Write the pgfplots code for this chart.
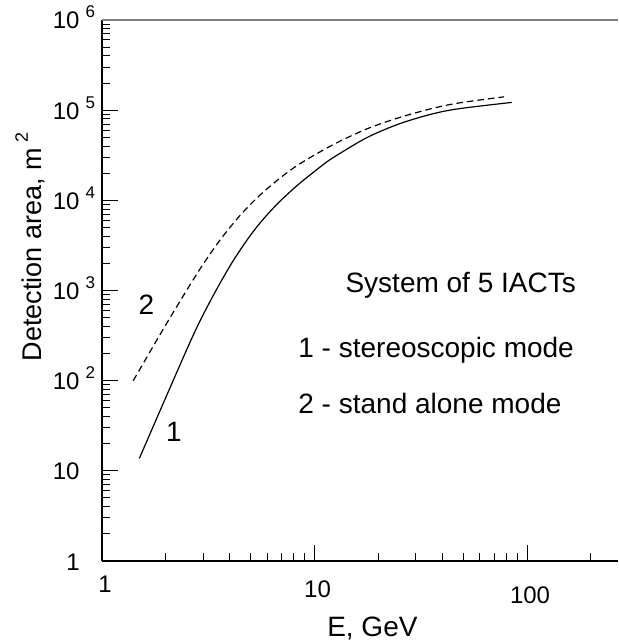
\documentclass[border=0pt]{standalone}
\usepackage{pgfplots}
\pgfplotsset{compat=1.18}
\usepackage{fontspec}
\setmainfont{Liberation Sans}
\newcommand{\supe}[1]{\rlap{\hspace{3pt}\raisebox{5.5pt}{\fontsize{8.5}{9}\selectfont #1}}}
\begin{document}
\begin{tikzpicture}
\begin{axis}[
  xmode=log, ymode=log,
  scale only axis, width=258pt, height=270.5pt,
  xmin=1, xmax=268, ymin=1, ymax=1e6,
  axis x line*=bottom, axis y line*=left,
  axis line style={line width=0.8pt, -},
  tick align=inside,
  major tick length=8pt, minor tick length=4pt,
  every tick/.style={black, line width=0.5pt},
  xtick={1,10,100},
  minor xtick={2,3,4,5,6,7,8,9,20,30,40,50,60,70,80,90,200},
  xticklabels={1,\raisebox{-2.5pt}{10},\raisebox{-5.5pt}{100}},
  xticklabel style={anchor=base, inner sep=0pt, xshift=1.5pt, yshift=-15.5pt, font=\fontsize{12}{13}\selectfont},
  ytick={1,10,100,1000,10000,100000,1000000},
  minor ytick={2,3,4,5,6,7,8,9,20,30,40,50,60,70,80,90,200,300,400,500,600,700,800,900,2000,3000,4000,5000,6000,7000,8000,9000,20000,30000,40000,50000,60000,70000,80000,90000,200000,300000,400000,500000,600000,700000,800000,900000},
  yticklabels={1,10,10\supe{2},10\supe{3},10\supe{4},10\supe{5},10\supe{6}},
  yticklabel style={anchor=base east, inner sep=0pt, xshift=-11pt, yshift=-4.5pt, font=\fontsize{12}{13}\selectfont},
  xlabel={E, GeV},
  xlabel style={at={(axis description cs:0.524,0)}, anchor=base, yshift=-37.5pt, inner sep=0pt, font=\fontsize{14}{16}\selectfont},
  ylabel={Detection area, m\hspace{3pt}\raisebox{7pt}{\fontsize{9}{10}\selectfont 2}},
  ylabel style={at={(axis description cs:-0.1163,0.581)}, anchor=base, inner sep=0pt, font=\fontsize{13.5}{16}\selectfont},
]
\draw[gray, line width=0.8pt] (rel axis cs:0,1) -- (rel axis cs:1,1);
\addplot[black, line width=0.6pt, smooth, tension=0.5] coordinates {
 (1.498,13.7) (2.594,266) (3.221,752) (3.999,1866) (4.797,3589) (5.546,5623)
 (6.637,8974) (8.241,14450) (10.62,23390) (12.25,29790) (17.62,49550) (25.23,70960)
 (36.22,91410) (48.42,104200) (84.72,121900)
};
\addplot[black, line width=0.6pt, dash pattern=on 3.3pt off 2pt, smooth, tension=0.5] coordinates {
 (1.403,100) (1.875,324) (2.328,760) (2.891,1730) (3.589,3614) (4.457,6776)
 (5.546,11460) (6.887,17660) (8.551,25530) (12.25,41500) (17.62,61940) (25.23,83180)
 (36.22,105200) (48.42,120800) (77.98,140600)
};
\end{axis}
\begin{scope}[every node/.style={inner sep=0pt, font=\fontsize{14}{16}\selectfont}]
\node[anchor=base] at (22.25pt,123pt) {2};
\node[anchor=base] at (36pt,59.5pt) {1};
\node[anchor=base] at (179.35pt,134.35pt) {System of 5 IACTs};
\node[anchor=base west] at (98pt,101.75pt) {1 - stereoscopic mode};
\node[anchor=base west] at (98pt,73.85pt) {2 - stand alone mode};
\end{scope}
\pgfresetboundingbox
\path[use as bounding box] (-51pt,-40.5pt) rectangle (258pt,280.5pt);
\end{tikzpicture}
\end{document}
